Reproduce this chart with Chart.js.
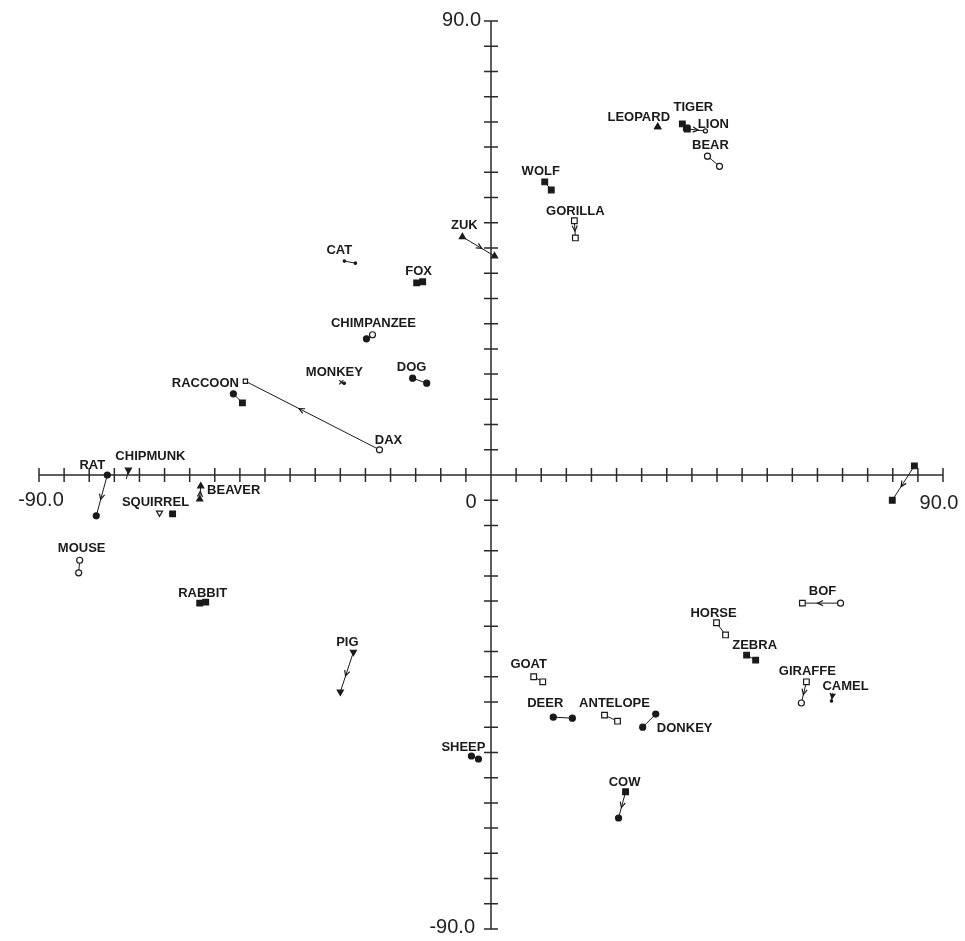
<!DOCTYPE html>
<html>
<head>
<meta charset="utf-8">
<script src="https://cdn.jsdelivr.net/npm/chart.js@4.4.0/dist/chart.umd.min.js"></script>
<style>
  html, body { margin: 0; padding: 0; background: #fff; }
  #wrap { width: 965px; height: 941px; }
</style>
</head>
<body>
<div id="wrap"><canvas id="chart" width="965" height="941"></canvas></div>
<script>
// animals, each plotted as a pair of positions (start -> end)
const animals = ["LEOPARD", "TIGER", "LION", "BEAR", "WOLF", "GORILLA", "ZUK", "CAT", "FOX", "CHIMPANZEE",
  "MONKEY", "DOG", "RACCOON", "DAX", "RAT", "CHIPMUNK", "SQUIRREL", "BEAVER", "MOUSE", "RABBIT",
  "PIG", "GOAT", "DEER", "ANTELOPE", "DONKEY", "SHEEP", "COW", "HORSE", "ZEBRA", "BOF",
  "GIRAFFE", "CAMEL", ""];
const startX = [33.2, 38.1, 39.1, 43.1, 10.7, 16.6, -5.7, -29.2, -14.8, -24.8,
  -29.8, -15.6, -51.3, -22.2, -76.4, -72.2, -66.0, -58.0, -81.9, -58.0,
  -27.4, 8.5, 12.4, 22.6, 30.2, -3.9, 26.8, 44.9, 50.9, 69.6,
  62.8, 68.0, 84.3];
const startY = [69.0, 69.6, 68.6, 63.2, 58.1, 50.4, 47.2, 42.4, 38.1, 27.0,
  18.4, 19.2, 16.1, 5.0, 0.0, 1.0, -7.5, -4.8, -16.9, -25.4,
  -35.1, -40.0, -48.0, -47.6, -50.0, -55.7, -62.8, -29.3, -35.7, -25.4,
  -41.0, -43.6, 1.8];
const endX = [33.2, 38.9, 42.7, 45.5, 12.0, 16.8, 0.7, -27.0, -13.6, -23.6,
  -29.2, -12.8, -49.5, -48.9, -78.6, -72.6, -63.4, -57.8, -82.1, -56.8,
  -30.0, 10.3, 16.2, 25.2, 32.8, -2.5, 25.4, 46.7, 52.7, 62.0,
  61.8, 67.8, 79.9];
const endY = [69.0, 68.8, 68.2, 61.2, 56.5, 47.0, 43.4, 42.0, 38.3, 27.8,
  18.2, 18.2, 14.3, 18.6, -8.1, -0.8, -7.7, -2.2, -19.4, -25.2,
  -43.0, -41.0, -48.2, -48.8, -47.4, -56.3, -68.0, -31.7, -36.7, -25.4,
  -45.2, -44.8, -5.0];

// axis range and tick labels
const axisMin = -90;
const axisMax = 90;
const tickStep = 5;
const axisLabels = ["-90.0", "0", "90.0"];

// marker look of start / end point
const startMark = ["tri", "box", "box", "ring", "box", "sq", "tri", "tiny", "box", "dot",
  "x", "dot", "dot", "ring", "dot", "tridown", "tridownOpen", "tri", "ring", "box",
  "tridown", "sq", "dot", "sq", "dot", "dot", "box", "sq", "box", "ring",
  "sq", "tiny", "box"];
const endMark = ["tri", "box", "ringSmall", "ring", "box", "sq", "tri", "tiny", "box", "ring",
  "tiny", "dot", "box", "sqSmall", "dot", "none", "box", "tri", "ring", "box",
  "tridown", "sq", "dot", "sq", "dot", "dot", "dot", "sq", "box", "sq",
  "ring", "tiny", "box"];
const arrowOn = [false, false, true, false, false, true, true, false, false, false,
  false, false, false, true, true, false, false, true, false, false,
  true, false, false, false, false, false, true, false, false, true,
  true, true, true];
const joined = animals.map((a, i) => a !== "SQUIRREL");
// label centre relative to the start point, in pixels
const labelOffset = [[-19, -10], [11, -16], [26, -5], [3, -11], [-4, -10], [1, -9], [2, -11], [-5, -11], [2, -11], [7, -15],
  [-7, -10], [-1, -11], [-28, -10], [9, -9], [-15, -10], [22, -14], [-4, -10], [34, -9], [2, -12], [3, -10],
  [-6, -10], [-5, -12], [-8, -14], [10, -12], [42, 1], [-8, -9], [-1, -9], [-3, -9], [8, -10], [-18, -12],
  [1, -10], [13, -9], [0, 0]];

const INK = "#1a1a1a";

function markStyle(code) {
  switch (code) {
    case "dot": return { style: "circle", r: 3, fill: INK, rot: 0 };
    case "ring": return { style: "circle", r: 3, fill: "#fff", rot: 0 };
    case "ringSmall": return { style: "circle", r: 2, fill: "#fff", rot: 0 };
    case "box": return { style: "rect", r: 4, fill: INK, rot: 0 };
    case "sq": return { style: "rect", r: 4, fill: "#fff", rot: 0 };
    case "sqSmall": return { style: "rect", r: 3, fill: "#fff", rot: 0 };
    case "tri": return { style: "triangle", r: 3.5, fill: INK, rot: 0 };
    case "tridown": return { style: "triangle", r: 3.5, fill: INK, rot: 180 };
    case "tridownOpen": return { style: "triangle", r: 3.5, fill: "#fff", rot: 180 };
    case "x": return { style: "crossRot", r: 3, fill: INK, rot: 0 };
    case "tiny": return { style: "circle", r: 1.2, fill: INK, rot: 0 };
    default: return { style: "circle", r: 0, fill: INK, rot: 0 };
  }
}

const datasets = animals.map((name, i) => {
  const a = markStyle(startMark[i]);
  const b = markStyle(endMark[i]);
  return {
    label: name,
    data: [{ x: startX[i], y: startY[i] }, { x: endX[i], y: endY[i] }],
    showLine: joined[i],
    borderColor: INK,
    borderWidth: 1,
    pointStyle: [a.style, b.style],
    pointRadius: [a.r, b.r],
    pointRotation: [a.rot, b.rot],
    pointBackgroundColor: [a.fill, b.fill],
    pointBorderColor: INK,
    pointBorderWidth: 1.2
  };
});

// axes through the origin with ticks crossing both sides
const axesPlugin = {
  id: "crossAxes",
  beforeDatasetsDraw(chart) {
    const ctx = chart.ctx;
    const xs = chart.scales.x, ys = chart.scales.y;
    const x0 = xs.getPixelForValue(0), y0 = ys.getPixelForValue(0);
    ctx.save();
    ctx.strokeStyle = "#2a2a2a";
    ctx.lineWidth = 1.5;
    ctx.beginPath();
    ctx.moveTo(xs.getPixelForValue(axisMin), y0);
    ctx.lineTo(xs.getPixelForValue(axisMax), y0);
    ctx.moveTo(x0, ys.getPixelForValue(axisMin));
    ctx.lineTo(x0, ys.getPixelForValue(axisMax));
    for (let v = axisMin; v <= axisMax; v += tickStep) {
      if (v === 0) continue;
      const px = xs.getPixelForValue(v), py = ys.getPixelForValue(v);
      ctx.moveTo(px, y0 - 7); ctx.lineTo(px, y0 + 7);
      ctx.moveTo(x0 - 7, py); ctx.lineTo(x0 + 7, py);
    }
    ctx.stroke();

    ctx.fillStyle = "#222";
    ctx.font = "20px 'Liberation Sans', Arial, sans-serif";
    ctx.textBaseline = "middle";
    ctx.textAlign = "right";
    ctx.fillText(axisLabels[2], x0 - 10, ys.getPixelForValue(axisMax) - 1);
    ctx.fillText(axisLabels[0], x0 - 16, ys.getPixelForValue(axisMin) - 2);
    ctx.textAlign = "center";
    ctx.fillText(axisLabels[0], xs.getPixelForValue(axisMin) + 2, y0 + 25);
    ctx.fillText(axisLabels[2], xs.getPixelForValue(axisMax) - 4, y0 + 28);
    ctx.fillText(axisLabels[1], x0 - 20, y0 + 27);
    ctx.restore();
  },
  afterDatasetsDraw(chart) {
    const ctx = chart.ctx;
    ctx.save();
    ctx.strokeStyle = INK;
    ctx.lineWidth = 1.2;
    chart.data.datasets.forEach((ds, i) => {
      const pts = chart.getDatasetMeta(i).data;
      const p = pts[0], q = pts[1];
      if (arrowOn[i]) {
        const t = 0.6;
        const mx = p.x + (q.x - p.x) * t, my = p.y + (q.y - p.y) * t;
        const ang = Math.atan2(q.y - p.y, q.x - p.x);
        ctx.beginPath();
        ctx.moveTo(mx - 6 * Math.cos(ang - 0.45), my - 6 * Math.sin(ang - 0.45));
        ctx.lineTo(mx, my);
        ctx.lineTo(mx - 6 * Math.cos(ang + 0.45), my - 6 * Math.sin(ang + 0.45));
        ctx.stroke();
      }
      if (ds.label) {
        ctx.fillStyle = INK;
        ctx.font = "bold 13px 'Liberation Sans', Arial, sans-serif";
        ctx.textAlign = "center";
        ctx.textBaseline = "middle";
        ctx.fillText(ds.label, p.x + labelOffset[i][0], p.y + labelOffset[i][1]);
      }
    });
    ctx.restore();
  }
};

const canvas = document.getElementById("chart");
if (canvas) {
  new Chart(canvas.getContext("2d"), {
    type: "scatter",
    data: { datasets: datasets },
    options: {
      responsive: false,
      animation: false,
      layout: { padding: { left: 39, right: 22, top: 21, bottom: 12 } },
      plugins: { legend: { display: false }, tooltip: { enabled: false } },
      scales: {
        x: { type: "linear", min: axisMin, max: axisMax, display: false },
        y: { type: "linear", min: axisMin, max: axisMax, display: false }
      }
    },
    plugins: [axesPlugin]
  });
}
</script>
</body>
</html>
